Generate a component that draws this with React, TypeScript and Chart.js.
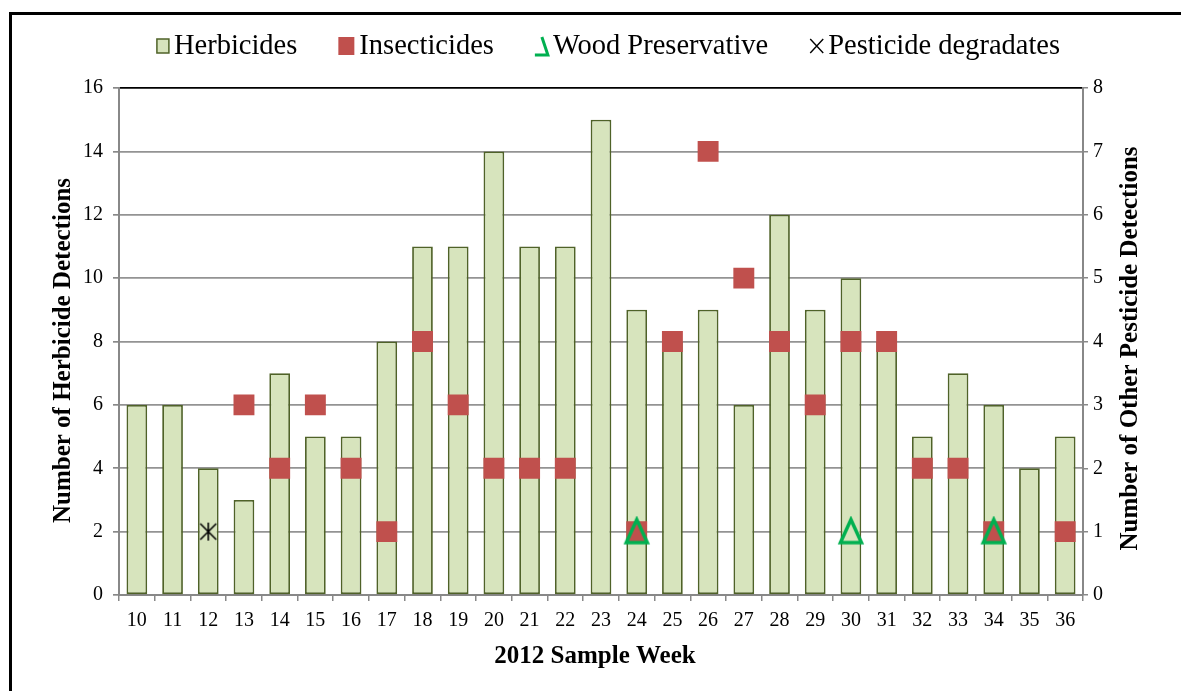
import React, { useEffect, useRef } from 'react';
import { Chart, registerables } from 'chart.js';

Chart.register(...registerables);

// ---- Data ----
const weeks = ['10', '11', '12', '13', '14', '15', '16', '17', '18', '19', '20', '21', '22', '23', '24', '25', '26', '27', '28', '29', '30', '31', '32', '33', '34', '35', '36'];
const herbicides = [6, 6, 4, 3, 7, 5, 5, 8, 11, 11, 14, 11, 11, 15, 9, 8, 9, 6, 12, 9, 10, 8, 5, 7, 6, 4, 5];
const insecticides = [null, null, null, 3, 2, 3, 2, 1, 4, 3, 2, 2, 2, null, 1, 4, 7, 5, 4, 3, 4, 4, 2, 2, 1, null, 1];
const woodPreservative = [null, null, null, null, null, null, null, null, null, null, null, null, null, null, 1, null, null, null, null, null, 1, null, null, null, 1, null, null];
const pesticideDegradates = [null, null, 1, null, null, null, null, null, null, null, null, null, null, null, null, null, null, null, null, null, null, null, null, null, null, null, null];

const leftAxisMax = 16;
const leftAxisStep = 2;
const rightAxisMax = 8;
const rightAxisStep = 1;

const seriesNames = ['Herbicides', 'Insecticides', 'Wood Preservative', 'Pesticide degradates'];
const xTitle = '2012 Sample Week';
const leftTitle = 'Number of Herbicide Detections';
const rightTitle = 'Number of Other Pesticide Detections';

// ---- Styles ----
const HERB_FILL = '#d7e4bd';
const HERB_BORDER = '#4f6228';
const INSECT = '#c0504d';
const WOOD = '#00b050';
const GRID = '#939393';
const AXIS = '#888888';
const FONT = "'Liberation Serif', 'Times New Roman', serif";

function makeTriangle(): HTMLCanvasElement {
  const c = document.createElement('canvas');
  c.width = 30;
  c.height = 32;
  const g = c.getContext('2d')!;
  g.strokeStyle = WOOD;
  g.lineWidth = 3.5;
  g.lineJoin = 'miter';
  g.beginPath();
  g.moveTo(15, 4);
  g.lineTo(25.5, 27);
  g.lineTo(4.5, 27);
  g.closePath();
  g.stroke();
  return c;
}

function makeStar(): HTMLCanvasElement {
  const c = document.createElement('canvas');
  c.width = 22;
  c.height = 22;
  const g = c.getContext('2d')!;
  g.strokeStyle = '#000';
  g.lineWidth = 1.6;
  g.beginPath();
  g.moveTo(3, 3);
  g.lineTo(19, 19);
  g.moveTo(19, 3);
  g.lineTo(3, 19);
  g.moveTo(11, 2);
  g.lineTo(11, 20);
  g.stroke();
  return c;
}

const legendPlugin = {
  id: 'customLegend',
  afterDraw(chart: any) {
    const ctx = chart.ctx as CanvasRenderingContext2D;
    ctx.save();
    ctx.font = `28.5px ${FONT}`;
    ctx.textBaseline = 'middle';
    ctx.fillStyle = '#000';
    const markerW = [14, 17, 14, 15];
    const gapMT = 4;
    const gapItems = 41;
    const widths = seriesNames.map((t, i) => markerW[i] + gapMT + ctx.measureText(t).width);
    const total = widths.reduce((a, b) => a + b, 0) + gapItems * (seriesNames.length - 1);
    const cx = 608;
    let x = cx - total / 2;
    const y = 46;
    seriesNames.forEach((t, i) => {
      const mw = markerW[i];
      if (i === 0) {
        ctx.fillStyle = HERB_FILL;
        ctx.fillRect(x + 1, y - 7, 12, 14);
        ctx.strokeStyle = HERB_BORDER;
        ctx.lineWidth = 1.5;
        ctx.strokeRect(x + 1, y - 7, 12, 14);
      } else if (i === 1) {
        ctx.fillStyle = INSECT;
        ctx.fillRect(x, y - 9, 16, 18);
      } else if (i === 2) {
        ctx.strokeStyle = WOOD;
        ctx.lineWidth = 3;
        ctx.beginPath();
        ctx.moveTo(x + 7, y - 9);
        ctx.lineTo(x + 13, y + 9);
        ctx.lineTo(x, y + 9);
        ctx.stroke();
      } else {
        ctx.strokeStyle = '#000';
        ctx.lineWidth = 1.4;
        ctx.beginPath();
        ctx.moveTo(x + 1, y - 7);
        ctx.lineTo(x + 14, y + 7);
        ctx.moveTo(x + 14, y - 7);
        ctx.lineTo(x + 1, y + 7);
        ctx.stroke();
      }
      ctx.fillStyle = '#000';
      ctx.fillText(t, x + mw + gapMT, y + 1);
      x += widths[i] + gapItems;
    });
    ctx.restore();
  },
};

const titlePlugin = {
  id: 'axisTitles',
  afterDraw(chart: any) {
    const ctx = chart.ctx as CanvasRenderingContext2D;
    const area = chart.chartArea;
    ctx.save();
    ctx.fillStyle = '#000';
    ctx.textAlign = 'center';
    ctx.textBaseline = 'middle';
    ctx.font = `bold 25px ${FONT}`;
    // x title
    ctx.fillText(xTitle, (area.left + area.right) / 2 - 6, area.bottom + 62);
    // left title
    ctx.save();
    ctx.translate(64, (area.top + area.bottom) / 2 + 9);
    ctx.rotate(-Math.PI / 2);
    ctx.fillText(leftTitle, 0, 0);
    ctx.restore();
    // right title
    ctx.save();
    ctx.translate(1131, (area.top + area.bottom) / 2 + 7);
    ctx.rotate(-Math.PI / 2);
    ctx.fillText(rightTitle, 0, 0);
    ctx.restore();
    ctx.restore();
  },
};

export default function App() {
  const canvasRef = useRef<HTMLCanvasElement | null>(null);

  useEffect(() => {
    const canvas = canvasRef.current;
    if (!canvas) return;
    const triangle = makeTriangle();
    const star = makeStar();

    const chart = new Chart(canvas, {
      type: 'bar',
      data: {
        labels: weeks,
        datasets: [
          {
            type: 'line',
            label: seriesNames[3],
            data: pesticideDegradates as any,
            yAxisID: 'y1',
            showLine: false,
            pointStyle: star as any,
            pointRadius: 10,
            order: 0,
          },
          {
            type: 'line',
            label: seriesNames[2],
            data: woodPreservative as any,
            yAxisID: 'y1',
            showLine: false,
            pointStyle: triangle as any,
            pointRadius: 12,
            order: 1,
          },
          {
            type: 'line',
            label: seriesNames[1],
            data: insecticides as any,
            yAxisID: 'y1',
            showLine: false,
            pointStyle: 'rect',
            pointRadius: 14.8,
            pointBackgroundColor: INSECT,
            pointBorderColor: INSECT,
            pointBorderWidth: 0,
            order: 2,
          },
          {
            type: 'bar',
            label: seriesNames[0],
            data: herbicides,
            yAxisID: 'y',
            backgroundColor: HERB_FILL,
            borderColor: HERB_BORDER,
            borderWidth: 1.8,
            borderSkipped: false,
            barPercentage: 0.58,
            categoryPercentage: 1,
            order: 3,
          },
        ],
      },
      options: {
        responsive: false,
        animation: false,
        layout: { padding: { top: 88, left: 0, right: 0, bottom: 0 } },
        plugins: {
          legend: { display: false },
          tooltip: { enabled: false },
        },
        scales: {
          x: {
            position: 'bottom',
            offset: true,
            grid: {
              offset: true,
              drawOnChartArea: false,
              drawTicks: true,
              tickLength: 6,
              color: AXIS,
              lineWidth: 1.5,
            },
            border: { display: true, color: AXIS, width: 2 },
            ticks: {
              color: '#000',
              font: { family: FONT, size: 20 },
              padding: 8,
              maxRotation: 0,
              autoSkip: false,
            },
            afterFit: (s: any) => {
              s.height = 96;
            },
          },
          y: {
            position: 'left',
            min: 0,
            max: leftAxisMax,
            grid: {
              color: (c: any) => (c.tick && c.tick.value === leftAxisMax ? '#000' : GRID),
              tickColor: AXIS,
              lineWidth: 1.7,
              tickLength: 6,
            },
            border: { display: true, color: AXIS, width: 2 },
            ticks: {
              stepSize: leftAxisStep,
              color: '#000',
              font: { family: FONT, size: 20 },
              padding: 10,
            },
            afterFit: (s: any) => {
              s.width = 119;
            },
          },
          y1: {
            position: 'right',
            min: 0,
            max: rightAxisMax,
            grid: {
              drawOnChartArea: false,
              color: AXIS,
              lineWidth: 1.5,
              tickLength: 5,
            },
            border: { display: true, color: AXIS, width: 2 },
            ticks: {
              stepSize: rightAxisStep,
              color: '#000',
              font: { family: FONT, size: 20 },
              padding: 5,
            },
            afterFit: (s: any) => {
              s.width = 98;
            },
          },
        },
      },
      plugins: [legendPlugin, titlePlugin],
    } as any);

    return () => {
      chart.destroy();
    };
  }, []);

  return (
    <div
      style={{
        position: 'fixed',
        left: 0,
        top: 0,
        width: 1181,
        height: 691,
        overflow: 'hidden',
        background: '#fff',
      }}
    >
      <canvas
        ref={canvasRef}
        width={1181}
        height={691}
        style={{ position: 'absolute', left: 0, top: 0, width: 1181, height: 691 }}
      />
      <div
        style={{
          position: 'absolute',
          left: 9,
          top: 12,
          width: 1300,
          height: 800,
          border: '3px solid #000',
          boxSizing: 'border-box',
          pointerEvents: 'none',
        }}
      />
    </div>
  );
}
